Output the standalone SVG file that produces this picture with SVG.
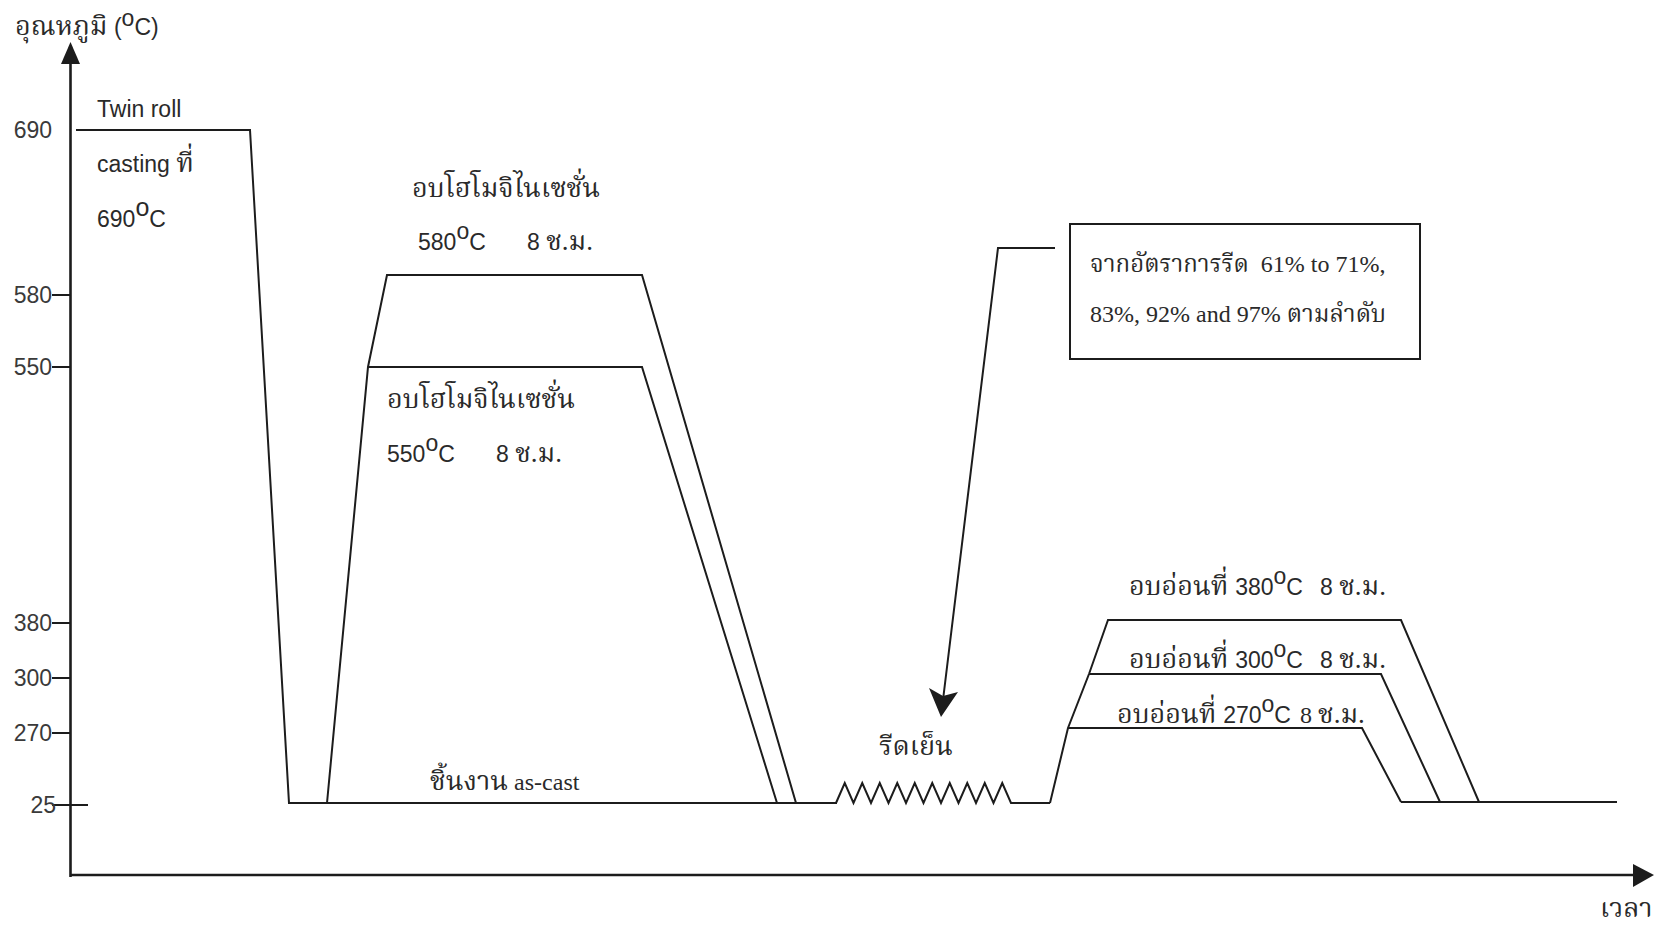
<svg xmlns="http://www.w3.org/2000/svg" width="1659" height="926" viewBox="0 0 1659 926">
<style>
.ln{fill:none;stroke:#1c1c1c;stroke-width:2;stroke-linejoin:miter}
.ax{fill:none;stroke:#1c1c1c;stroke-width:2.6}
.s{font-family:"Liberation Sans",Arial,sans-serif;font-size:23px;fill:#2a2a2a}
.th{font-family:"Liberation Serif","Noto Serif Thai","Noto Sans Thai","Tlwg Typo",serif;font-size:27px;fill:#2a2a2a}
.tr{font-family:"Liberation Serif","Noto Serif Thai","Noto Sans Thai",serif;font-size:24px;fill:#2a2a2a}
.lbl{font-family:"Liberation Sans",Arial,sans-serif;font-size:23px;fill:#3a3a3a;text-anchor:end}
text{white-space:pre}
</style>
<rect width="1659" height="926" fill="#fff"/>

<g id="axes">
<line class="ax" x1="70.5" y1="877" x2="70.5" y2="60"/>
<path d="M70.5,42L80,64L61,64z" fill="#1c1c1c"/>
<line class="ax" x1="70" y1="875" x2="1636" y2="875"/>
<path d="M1654,875L1633,864L1633,887z" fill="#1c1c1c"/>
<g stroke="#1c1c1c" stroke-width="2">
<line x1="52" y1="295" x2="70" y2="295"/>
<line x1="52" y1="367" x2="70" y2="367"/>
<line x1="52" y1="623" x2="70" y2="623"/>
<line x1="52" y1="678" x2="70" y2="678"/>
<line x1="52" y1="733" x2="70" y2="733"/>
<line x1="52" y1="805" x2="88" y2="805"/>
</g>
<text class="lbl" x="52" y="138">690</text>
<text class="lbl" x="52" y="303">580</text>
<text class="lbl" x="52" y="375">550</text>
<text class="lbl" x="52" y="631">380</text>
<text class="lbl" x="52" y="686">300</text>
<text class="lbl" x="52" y="741">270</text>
<text class="lbl" x="56" y="813">25</text>
<text x="15" y="35"><tspan class="th">อุณหภูมิ</tspan><tspan class="s"> (</tspan><tspan class="s" font-size="19" dy="-9">o</tspan><tspan class="s" dy="9">C)</tspan></text>
<text class="th" x="1600" y="917">เวลา</text>
</g>

<g id="casting">
<polyline class="ln" points="76,130 250,130 289,803 327,803"/>
<text class="s" x="97" y="117">Twin roll</text>
<text x="97" y="172" xml:space="preserve"><tspan class="s">casting </tspan><tspan class="th">ที่</tspan></text>
<text class="s" x="97" y="227">690<tspan font-size="25" dy="-11">o</tspan><tspan dy="11">C</tspan></text>
</g>

<g id="homog-580">
<polyline class="ln" points="327,803 368,367 387,275 642,275 796,803"/>
<text class="th" x="412" y="197">อบโฮโมจิไนเซชั่น</text>
<text x="418" y="250" xml:space="preserve"><tspan class="s">580</tspan><tspan class="s" font-size="25" dy="-11">o</tspan><tspan class="s" dy="11">C</tspan><tspan class="s" x="527">8 </tspan><tspan class="th">ช.ม.</tspan></text>
</g>

<g id="homog-550">
<polyline class="ln" points="368,367 642,367 777,803"/>
<text class="th" x="387" y="408">อบโฮโมจิไนเซชั่น</text>
<text x="387" y="462" xml:space="preserve"><tspan class="s">550</tspan><tspan class="s" font-size="25" dy="-11">o</tspan><tspan class="s" dy="11">C</tspan><tspan class="s" x="496">8 </tspan><tspan class="th">ช.ม.</tspan></text>
</g>

<g id="as-cast">
<line class="ln" x1="289" y1="803" x2="837" y2="803"/>
<text x="430" y="790" xml:space="preserve"><tspan class="th">ชิ้นงาน</tspan><tspan class="tr"> as-cast</tspan></text>
</g>

<g id="cold-rolling">
<polyline class="ln" points="836,803 844.75,783 853.5,803 862.25,783 871,803 879.75,783 888.5,803 897.25,783 906,803 914.75,783 923.5,803 932.25,783 941,803 949.75,783 958.5,803 967.25,783 976,803 984.75,783 993.5,803 1002.25,783 1011,803 1050,803"/>
<text class="th" x="879" y="755">รีดเย็น</text>
</g>

<g id="anneal-380">
<polyline class="ln" points="1050,803 1068,728 1089,674 1108,620 1401,620 1479,802"/>
<text x="1129" y="595" xml:space="preserve"><tspan class="th">อบอ่อนที่ </tspan><tspan class="s">380</tspan><tspan class="s" font-size="25" dy="-11">o</tspan><tspan class="s" dy="11">C</tspan><tspan class="s" x="1320">8 </tspan><tspan class="th">ช.ม.</tspan></text>
</g>
<g id="anneal-300">
<polyline class="ln" points="1089,674 1381,674 1440,802"/>
<text x="1129" y="668" xml:space="preserve"><tspan class="th">อบอ่อนที่ </tspan><tspan class="s">300</tspan><tspan class="s" font-size="25" dy="-11">o</tspan><tspan class="s" dy="11">C</tspan><tspan class="s" x="1320">8 </tspan><tspan class="th">ช.ม.</tspan></text>
</g>
<g id="anneal-270">
<polyline class="ln" points="1068,728 1362,728 1401,802"/>
<text x="1117" y="723" xml:space="preserve"><tspan class="th">อบอ่อนที่ </tspan><tspan class="s">270</tspan><tspan class="s" font-size="25" dy="-11">o</tspan><tspan class="s" dy="11">C</tspan><tspan class="tr" x="1300">8 </tspan><tspan class="th">ช.ม.</tspan></text>
</g>
<g id="final-cooling">
<line class="ln" x1="1401" y1="802" x2="1617" y2="802"/>
</g>

<g id="note">
<rect x="1070" y="224" width="350" height="135" fill="none" stroke="#1c1c1c" stroke-width="2"/>
<text class="tr" x="1090" y="272" font-size="25.5" xml:space="preserve">จากอัตราการรีด  61% to 71%,</text>
<text class="tr" x="1090" y="322" font-size="25.5" xml:space="preserve">83%, 92% and 97% ตามลำดับ</text>
</g>

<g id="connectors">
<polyline class="ln" points="1055,248 998,248 943,700"/>
<path d="M941,717L929,688L943,696L958,692z" fill="#1c1c1c"/>
</g>
</svg>
